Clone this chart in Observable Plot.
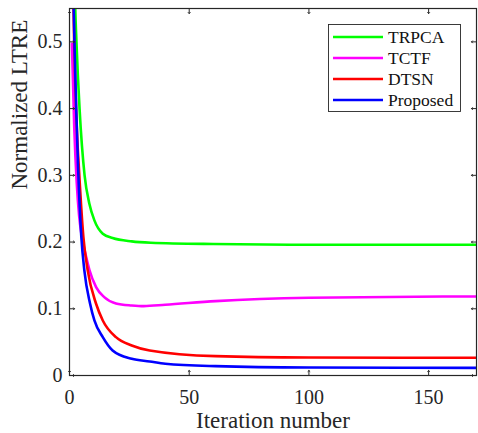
<!DOCTYPE html>
<html>
<head>
<meta charset="utf-8">
<script src="https://cdn.jsdelivr.net/npm/d3@7"></script>
<script src="https://cdn.jsdelivr.net/npm/@observablehq/plot@0.6"></script>
<style>
  html, body { margin: 0; padding: 0; background: #fff; }
  #chart { width: 478px; height: 433px; }
</style>
</head>
<body>
<div id="chart"></div>
<script>
// ---- Data ----
const seriesNames = ["TRPCA", "TCTF", "DTSN", "Proposed"];
const seriesColors = ["#00ff00", "#ff00ff", "#ff0000", "#0000ff"];

const trpcaIter = [1, 2.4, 2.9, 4.2, 6.3, 8.3, 10.4, 13.9, 18, 26, 34, 60, 100, 170];
const trpcaVal  = [0.9, 0.55, 0.5, 0.4, 0.3, 0.2575, 0.2325, 0.2125, 0.206, 0.201, 0.199, 0.197, 0.196, 0.196];

const tctfIter = [1, 2, 3, 4, 5, 6, 7, 8.3, 11.1, 14.5, 19.4, 26, 31, 40, 61, 100, 170];
const tctfVal  = [0.497, 0.37, 0.29, 0.24, 0.212, 0.193, 0.177, 0.1585, 0.1325, 0.1175, 0.108, 0.105, 0.104, 0.106, 0.1115, 0.1165, 0.1185];

const dtsnIter = [1, 2, 3, 4.1, 5.8, 7.6, 11.1, 13.9, 19.4, 26, 33.5, 61, 100, 170];
const dtsnVal  = [0.68, 0.49, 0.375, 0.3, 0.2075, 0.1575, 0.1075, 0.0825, 0.0575, 0.045, 0.0375, 0.029, 0.027, 0.0265];

const propIter = [1, 1.7, 2.2, 2.8, 3.6, 4.9, 6.2, 8.6, 10.4, 13.9, 18, 26, 33.5, 40, 61, 100, 170];
const propVal  = [0.72, 0.56, 0.48, 0.4, 0.31, 0.21, 0.1575, 0.1075, 0.0825, 0.0575, 0.0375, 0.025, 0.021, 0.0175, 0.014, 0.012, 0.0115];

const xDomain = [0, 170];
const yDomain = [0, 0.55];
const xTicks = [0, 50, 100, 150];
const yTicks = [0, 0.1, 0.2, 0.3, 0.4, 0.5];
const xLabel = "Iteration number";
const yLabel = "Normalized LTRE";

// ---- Build table ----
const iters = [trpcaIter, tctfIter, dtsnIter, propIter];
const vals = [trpcaVal, tctfVal, dtsnVal, propVal];
const rows = [];
seriesNames.forEach((name, i) => {
  iters[i].forEach((it, j) => rows.push({series: name, iter: it, val: vals[i][j]}));
});

const ink = "#262626";
const font = "Liberation Serif, serif";

const lines = seriesNames.map((name, i) =>
  Plot.line(rows.filter(r => r.series === name), {
    x: "iter", y: "val",
    stroke: seriesColors[i],
    strokeWidth: 2.6,
    curve: "monotone-x",
    clip: true
  })
);

const tickLen = 5;

const svg = Plot.plot({
  width: 478,
  height: 433,
  marginLeft: 69,
  marginRight: 2,
  marginTop: 8,
  marginBottom: 58,
  style: {background: "#fff"},
  x: {domain: xDomain, ticks: xTicks},
  y: {domain: yDomain, ticks: yTicks},
  marks: [
    ...lines,
    // inward ticks on all four sides
    Plot.vector(xTicks, {x: d => d, y: () => yDomain[0], length: tickLen, rotate: 0, anchor: "start", stroke: ink, strokeWidth: 1}),
    Plot.vector(xTicks, {x: d => d, y: () => yDomain[1], length: tickLen, rotate: 180, anchor: "start", stroke: ink, strokeWidth: 1}),
    Plot.vector(yTicks, {y: d => d, x: () => xDomain[0], length: tickLen, rotate: 90, anchor: "start", stroke: ink, strokeWidth: 1}),
    Plot.vector(yTicks, {y: d => d, x: () => xDomain[1], length: tickLen, rotate: -90, anchor: "start", stroke: ink, strokeWidth: 1}),
    Plot.axisX({ticks: xTicks, tickSize: 0, tickPadding: 14, fontSize: 20, fontFamily: font, label: null, fill: ink}),
    Plot.axisY({ticks: yTicks, tickSize: 0, tickPadding: 7, fontSize: 20, fontFamily: font, label: null, fill: ink, tickFormat: d => d === 0 ? "0" : d3.format(".1f")(d)}),
    Plot.frame({stroke: ink, strokeWidth: 1.2}),
    Plot.text([xLabel], {text: d => d, frameAnchor: "bottom", dy: 45, fontSize: 23, fontFamily: font, fill: ink, lineAnchor: "middle"}),
    Plot.text([yLabel], {text: d => d, frameAnchor: "left", dx: -50, dy: -2.5, rotate: -90, fontSize: 23, fontFamily: font, fill: ink, lineAnchor: "middle"})
  ]
});

d3.select(svg).attr("font-family", font).style("font-family", font);

// ---- Legend (inside the plot, top right) ----
const lg = d3.select(svg).append("g")
  .attr("font-family", font).attr("font-size", 17.5).attr("fill", "#111").attr("text-anchor", "start");
lg.append("rect").attr("x", 328.5).attr("y", 24.5).attr("width", 132).attr("height", 87)
  .attr("fill", "#fff").attr("stroke", ink).attr("stroke-width", 0.9);
seriesNames.forEach((name, i) => {
  const cy = 37 + i * 21;
  lg.append("line").attr("x1", 333).attr("x2", 383).attr("y1", cy).attr("y2", cy)
    .attr("stroke", seriesColors[i]).attr("stroke-width", 2.6);
  lg.append("text").attr("x", 388).attr("y", cy).attr("dy", "0.33em").attr("text-anchor", "start").text(name);
});

// force the serif face on every text (including tick labels)
d3.select(svg).selectAll("g, text")
  .attr("font-family", font)
  .style("font-family", font)
  .style("font-variant", "normal")
  .attr("font-variant", null);

document.getElementById("chart").appendChild(svg);
</script>
</body>
</html>
